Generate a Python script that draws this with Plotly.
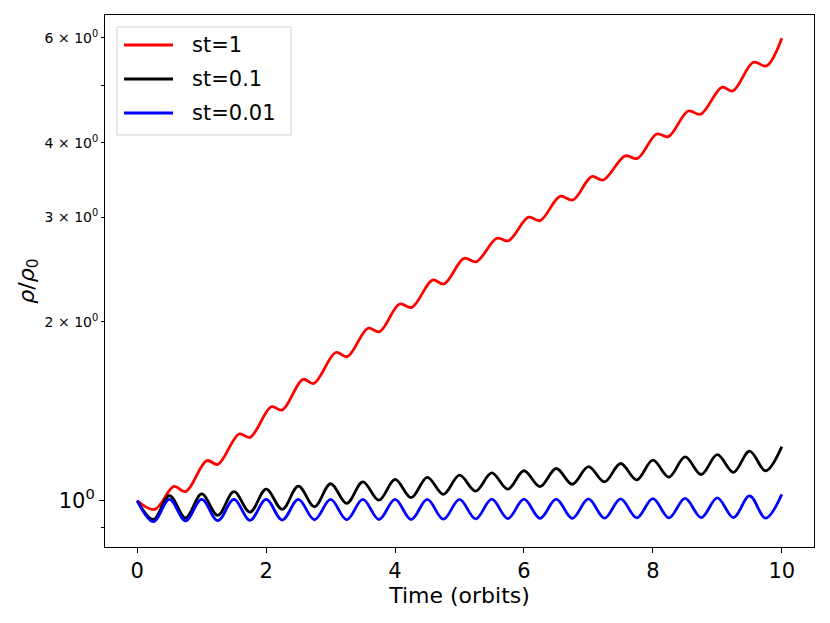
import plotly.graph_objects as go

# ---- data ----
t_red = [0.0, 0.27, 0.57, 0.75, 1.08, 1.25, 1.58, 1.75, 2.08, 2.25, 2.57, 2.74,
         3.08, 3.26, 3.58, 3.76, 4.07, 4.26, 4.58, 4.76, 5.07, 5.26, 5.58, 5.76,
         6.07, 6.25, 6.56, 6.76, 7.05, 7.23, 7.57, 7.76, 8.06, 8.24, 8.55, 8.74,
         9.07, 9.24, 9.56, 9.76, 10.0]
rho_st1 = [1.000, 0.967, 1.057, 1.036, 1.168, 1.151, 1.295, 1.278, 1.439, 1.421,
           1.600, 1.575, 1.775, 1.747, 1.950, 1.924, 2.142, 2.114, 2.350, 2.315,
           2.556, 2.523, 2.763, 2.737, 2.998, 2.958, 3.250, 3.204, 3.508, 3.462,
           3.800, 3.765, 4.137, 4.095, 4.523, 4.465, 4.957, 4.887, 5.463, 5.383,
           5.995]

t_grid = [0.0, 0.25, 0.5, 0.75, 1.0, 1.25, 1.5, 1.75, 2.0, 2.25, 2.5, 2.75,
          3.0, 3.25, 3.5, 3.75, 4.0, 4.25, 4.5, 4.75, 5.0, 5.25, 5.5, 5.75,
          6.0, 6.25, 6.5, 6.75, 7.0, 7.25, 7.5, 7.75, 8.0, 8.25, 8.5, 8.75,
          9.0, 9.25, 9.5, 9.75, 10.0]
rho_st01 = [1.000, 0.930, 1.020, 0.936, 1.027, 0.945, 1.036, 0.957, 1.046, 0.967,
            1.058, 0.977, 1.068, 0.990, 1.076, 1.002, 1.086, 1.012, 1.095, 1.025,
            1.104, 1.038, 1.114, 1.046, 1.123, 1.056, 1.133, 1.066, 1.141, 1.076,
            1.155, 1.084, 1.170, 1.096, 1.185, 1.107, 1.195, 1.116, 1.212, 1.123,
            1.233]
rho_st001 = [1.000, 0.922, 1.005, 0.925, 1.005, 0.926, 1.005, 0.927, 1.005, 0.928,
             1.005, 0.929, 1.005, 0.929, 1.005, 0.930, 1.005, 0.930, 1.005, 0.931,
             1.005, 0.932, 1.006, 0.933, 1.006, 0.934, 1.006, 0.934, 1.007, 0.935,
             1.007, 0.936, 1.008, 0.936, 1.009, 0.937, 1.011, 0.937, 1.019, 0.935,
             1.025]

series_names = ["st=1", "st=0.1", "st=0.01"]
series_colors = ["#ff0000", "#000000", "#0000ff"]
series_axes = ["y", "y", "y2"]   # y2 is an identical overlaid log axis (carries the small labels)

x_ticks = [0, 2, 4, 6, 8, 10]
y_major_ticks = [1]
y_major_text = ["10<sup>0</sup>"]
y_minor_ticks = [2, 3, 4, 6]
y_minor_text = ["2 × 10<sup>0</sup>", "3 × 10<sup>0</sup>",
                "4 × 10<sup>0</sup>", "6 × 10<sup>0</sup>"]
y_unlabeled = [0.9, 5]

FONT = "DejaVu Sans"
Y_RANGE = [-0.0778, 0.8168]

fig = go.Figure()
for xs, ys, nm, col, ax in zip([t_red, t_grid, t_grid], [rho_st1, rho_st01, rho_st001],
                               series_names, series_colors, series_axes):
    fig.add_trace(go.Scatter(x=xs, y=ys, mode="lines", name=nm, yaxis=ax,
                             line=dict(color=col, width=2.8, shape="spline")))

# legend drawn as box + sample lines + labels (matplotlib-like layout)
shapes = [dict(type="rect", xref="paper", yref="paper",
               x0=0.0169, x1=0.2623, y0=0.7744, y1=0.9774,
               line=dict(color="#d0d0d0", width=1), fillcolor="rgba(255,255,255,0.8)",
               layer="above")]
annotations = []
leg_y = [0.9436, 0.8797, 0.8158]
for nm, col, yy in zip(series_names, series_colors, leg_y):
    shapes.append(dict(type="line", xref="paper", yref="paper",
                       x0=0.0268, x1=0.0959, y0=yy, y1=yy,
                       line=dict(color=col, width=2.8), layer="above"))
    annotations.append(dict(text=nm, xref="paper", yref="paper", x=0.1199, y=yy,
                            xanchor="left", yanchor="middle", showarrow=False,
                            font=dict(size=21, family=FONT, color="black")))

annotations.append(dict(text="<i>ρ</i>/<i>ρ</i><sub>0</sub>", xref="paper", yref="paper",
                        x=-0.109, y=0.5, xanchor="center", yanchor="middle",
                        textangle=-90, showarrow=False,
                        font=dict(size=22, family=FONT, color="black")))

# page body has an 8px margin, so the figure is 8px smaller on each outer edge
fig.update_layout(
    width=822, height=615,
    margin=dict(l=97, r=16, t=7, b=76),
    paper_bgcolor="white", plot_bgcolor="white",
    font=dict(family=FONT, color="black"),
    showlegend=False,
    xaxis=dict(range=[-0.5, 10.5], tickmode="array", tickvals=x_ticks,
               ticks="outside", ticklen=5, tickwidth=1, tickcolor="black",
               showline=True, linecolor="black", linewidth=1, mirror=True,
               showgrid=False, zeroline=False,
               tickfont=dict(size=21, family=FONT),
               title=dict(text="Time (orbits)", font=dict(size=22, family=FONT),
                          standoff=4)),
    yaxis=dict(type="log", range=Y_RANGE, tickmode="array",
               tickvals=y_major_ticks, ticktext=y_major_text,
               ticks="outside", ticklen=5, tickwidth=1, tickcolor="black",
               minor=dict(tickmode="array", tickvals=y_unlabeled, ticks="outside",
                          ticklen=3, tickwidth=1, tickcolor="black", showgrid=False),
               showline=True, linecolor="black", linewidth=1, mirror=True,
               showgrid=False, zeroline=False,
               tickfont=dict(size=21, family=FONT)),
    yaxis2=dict(type="log", range=Y_RANGE, overlaying="y", side="left",
                tickmode="array", tickvals=y_minor_ticks, ticktext=y_minor_text,
                ticks="outside", ticklen=3, tickwidth=1, tickcolor="black",
                showline=False, showgrid=False, zeroline=False,
                tickfont=dict(size=14, family=FONT)),
    shapes=shapes,
    annotations=annotations,
)

fig.write_html("out.html")
